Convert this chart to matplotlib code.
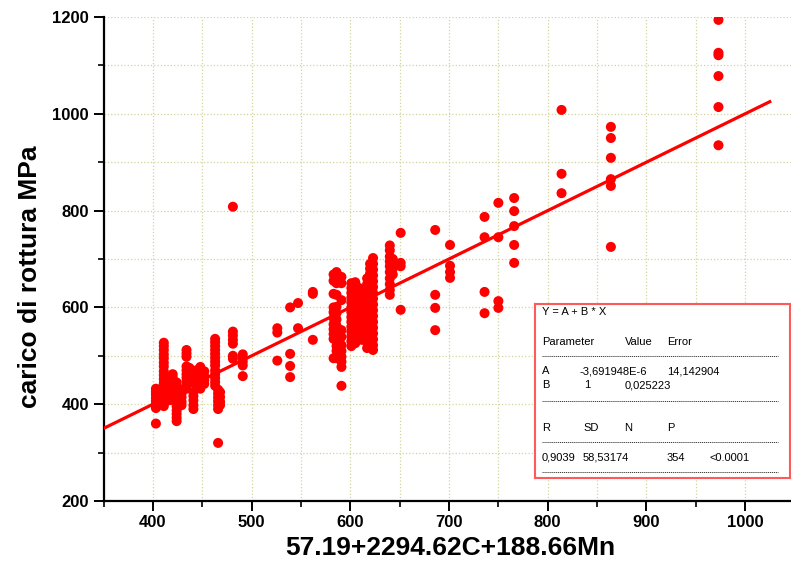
import numpy as np
import matplotlib.pyplot as plt
from matplotlib.ticker import MultipleLocator

plt.rcParams['font.family'] = ['Liberation Sans', 'DejaVu Sans']

# x position of each vertical group of measurements and the loads measured there
col_x = [403, 406, 411, 416, 420, 424, 429, 434, 437, 441, 444, 448, 452,
         463, 466, 468, 481, 491, 526, 539, 547, 562,
         583, 586, 591, 601, 605, 609, 612, 617, 620, 623,
         640, 643, 651, 686, 701, 736, 750, 766, 814, 864, 973]
col_y = [
    [432, 426, 420, 413, 406, 398, 392, 360],
    [430, 418, 408, 400],
    [527, 520, 512, 503, 495, 486, 478, 468, 460, 452, 444, 436, 428, 420, 412, 404, 396],
    [455, 447, 440, 432, 424, 416, 408],
    [462, 455, 448, 440, 432, 424, 416, 409],
    [445, 437, 428, 420, 412, 403, 395, 387, 380, 372, 365],
    [430, 422, 414, 405, 398],
    [512, 505, 498, 478, 470, 462, 455, 448, 440, 432],
    [475, 468, 460, 452, 445],
    [425, 417, 408, 398, 390],
    [470, 462, 454, 446, 438],
    [477, 470, 462, 455, 447, 440, 432],
    [468, 458, 450, 442],
    [535, 528, 520, 512, 504, 496, 488, 480, 470, 462, 454, 446, 438],
    [430, 422, 414, 406, 398, 390, 320],
    [425, 415, 405, 398],
    [808, 550, 542, 533, 525, 500, 494],
    [503, 496, 488, 480, 458],
    [557, 548, 490],
    [600, 504, 479, 456],
    [609, 557],
    [632, 628, 533],
    [668, 655, 628, 600, 590, 578, 565, 555, 545, 535, 495],
    [673, 660, 650, 626, 601, 588, 575, 562, 548, 533, 520, 510, 495],
    [663, 650, 615, 553, 539, 522, 510, 498, 488, 477, 438],
    [650, 640, 630, 620, 610, 600, 590, 580, 570, 560, 550, 540, 530, 520],
    [652, 643, 634, 625, 616, 607, 598, 589, 580, 571, 562, 553, 544, 535, 526],
    [640, 628, 618, 606, 594, 582, 570, 558, 546, 534],
    [609, 598, 588, 578, 568, 558, 548, 540, 533],
    [660, 648, 636, 624, 612, 600, 588, 576, 564, 552, 540, 528, 516],
    [690, 680, 670, 660, 650, 640, 630, 620, 610, 600, 590, 580, 570, 560, 550, 540, 530, 520],
    [702, 690, 678, 666, 654, 642, 630, 618, 606, 594, 582, 570, 558, 546, 534, 522, 512],
    [728, 718, 705, 695, 685, 673, 660, 648, 636, 626],
    [700, 690, 680, 668],
    [754, 692, 685, 595],
    [760, 626, 599, 553],
    [729, 686, 673, 661],
    [787, 745, 632, 588],
    [816, 745, 613, 599],
    [826, 799, 768, 729, 692],
    [1008, 876, 836],
    [973, 950, 909, 865, 851, 725],
    [1194, 1126, 1121, 1078, 1014, 935],
]

# linear fit Y = A + B * X
fit_A = -3.691948e-6
fit_B = 1.0
fit_x = [350, 1025]

x_ticks = [400, 500, 600, 700, 800, 900, 1000]
y_ticks = [200, 400, 600, 800, 1000, 1200]

# fit report
rep_title = "Y = A + B * X"
rep_head = ["Parameter", "Value", "Error"]
rep_a = ["A", "-3,691948E-6", "14,142904"]
rep_b = ["B", "1", "0,025223"]
stat_head = ["R", "SD", "N", "P"]
stat_vals = ["0,9039", "58,53174", "354", "<0.0001"]

xs = np.concatenate([np.full(len(ys), cx) for cx, ys in zip(col_x, col_y)])
ys = np.concatenate([np.array(v, dtype=float) for v in col_y])

W, H = 791, 563
fig = plt.figure(figsize=(W / 100, H / 100), dpi=100)
ax = fig.add_axes([103.6 / W, 62 / H, 687.4 / W, 484 / H])
ax.set_xlim(350, 1046.5)
ax.set_ylim(200, 1200)

ax.xaxis.set_major_locator(MultipleLocator(100))
ax.xaxis.set_minor_locator(MultipleLocator(50))
ax.yaxis.set_major_locator(MultipleLocator(200))
ax.yaxis.set_minor_locator(MultipleLocator(100))
ax.grid(which='both', linestyle=':', color='#d4d49a', linewidth=0.9)
ax.set_axisbelow(True)

ax.scatter(xs, ys, s=52, color='#ff0000', edgecolors='none', zorder=3)
fx = np.array(fit_x, dtype=float)
ax.plot(fx, fit_A + fit_B * fx, color='#ff0000', linewidth=2.3, zorder=4)

for s in ['top', 'right']:
    ax.spines[s].set_visible(False)
for s in ['left', 'bottom']:
    ax.spines[s].set_linewidth(1.6)

ax.tick_params(which='major', direction='out', length=7, width=1.4)
ax.tick_params(which='minor', direction='out', length=4, width=1.2)
ax.set_xticks(x_ticks, [str(t) for t in x_ticks], fontsize=12, fontweight='bold')
ax.set_yticks(y_ticks, [str(t) for t in y_ticks], fontsize=12, fontweight='bold')
ax.tick_params(axis='x', pad=3)

ax.set_xlabel("57.19+2294.62C+188.66Mn", fontsize=19, fontweight='bold')
ax.set_ylabel("carico di rottura MPa", fontsize=19, fontweight='bold')
ax.xaxis.set_label_coords(0.505, -0.072)
ax.yaxis.set_label_coords(-0.09, 0.463)

# fit report box, laid out in pixel offsets from its top-left corner
bx0, by0, bw, bh = 535, 304, 255, 174
box = fig.add_axes([bx0 / W, (H - by0 - bh) / H, bw / W, bh / H])
box.set_xlim(0, bw)
box.set_ylim(bh, 0)
box.set_xticks([])
box.set_yticks([])
box.set_facecolor('white')
for s in box.spines.values():
    s.set_edgecolor('#ff5a5a')
    s.set_linewidth(1.5)

fs = 8
box.text(7, 8, rep_title, fontsize=fs, va='center')
for cx, t in zip([7, 90, 132], rep_head):
    box.text(cx, 38, t, fontsize=fs, va='center')
for cx, t in zip([7, 44, 132], rep_a):
    box.text(cx, 67, t, fontsize=fs, va='center')
for cx, t in zip([7, 49, 90], rep_b):
    box.text(cx, 81, t, fontsize=fs, va='center')
for cx, t in zip([7, 48, 89, 132], stat_head):
    box.text(cx, 124, t, fontsize=fs, va='center')
for cx, t in zip([7, 48, 132, 174], stat_vals):
    box.text(cx, 154, t, fontsize=fs, va='center')
for ly in [52, 97, 138, 168]:
    box.plot([7, 243], [ly, ly], color='#404040', linewidth=0.7,
             linestyle=(0, (1.2, 0.8)))

fig.savefig('out.png', dpi=100)
